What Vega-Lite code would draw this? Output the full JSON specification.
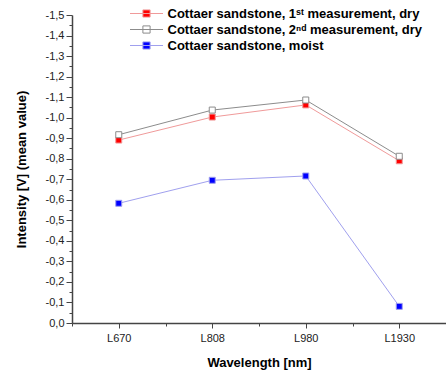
{
  "$schema": "https://vega.github.io/schema/vega-lite/v6.json",
  "width": 374,
  "height": 308,
  "autosize": {"type": "none"},
  "padding": {"left": 72, "top": 15, "right": 0, "bottom": 51},
  "background": "white",
  "config": {
    "font": "Liberation Sans",
    "view": {"stroke": null},
    "axis": {
      "grid": false,
      "domainColor": "#444444",
      "domainWidth": 1.5,
      "tickColor": "#444444",
      "tickWidth": 1,
      "labelFontSize": 11,
      "labelColor": "#222222",
      "labelFont": "Liberation Sans",
      "titleFont": "Liberation Sans",
      "titleFontSize": 13,
      "titleFontWeight": "bold",
      "titleColor": "#000000",
      "labelOverlap": false,
      "labelFlush": false
    }
  },
  "data": {
    "values": [
      {"wl": "L670", "series": "Cottaer sandstone, 1ˢᵗ measurement, dry", "v": -0.891},
      {"wl": "L808", "series": "Cottaer sandstone, 1ˢᵗ measurement, dry", "v": -1.003},
      {"wl": "L980", "series": "Cottaer sandstone, 1ˢᵗ measurement, dry", "v": -1.062},
      {"wl": "L1930", "series": "Cottaer sandstone, 1ˢᵗ measurement, dry", "v": -0.79},
      {"wl": "L670", "series": "Cottaer sandstone, 2ⁿᵈ measurement, dry", "v": -0.917},
      {"wl": "L808", "series": "Cottaer sandstone, 2ⁿᵈ measurement, dry", "v": -1.037},
      {"wl": "L980", "series": "Cottaer sandstone, 2ⁿᵈ measurement, dry", "v": -1.086},
      {"wl": "L1930", "series": "Cottaer sandstone, 2ⁿᵈ measurement, dry", "v": -0.812},
      {"wl": "L670", "series": "Cottaer sandstone, moist", "v": -0.583},
      {"wl": "L808", "series": "Cottaer sandstone, moist", "v": -0.695},
      {"wl": "L980", "series": "Cottaer sandstone, moist", "v": -0.716},
      {"wl": "L1930", "series": "Cottaer sandstone, moist", "v": -0.081}
    ]
  },
  "transform": [
    {"calculate": "indexof(['L670','L808','L980','L1930'], datum.wl) + 1", "as": "pos"}
  ],
  "encoding": {
    "x": {
      "field": "pos",
      "type": "quantitative",
      "scale": {"domain": [0.5, 4.5], "nice": false, "zero": false},
      "axis": {
        "title": "Wavelength [nm]",
        "values": [0.5, 1, 1.5, 2, 2.5, 3, 3.5, 4, 4.5],
        "labelExpr": "datum.value % 1 === 0 ? ['L670','L808','L980','L1930'][datum.value - 1] : ''",
        "tickSize": {"condition": {"test": "datum.value % 1 !== 0", "value": 3}, "value": 5},
        "labelPadding": 4,
        "titlePadding": 13
      }
    },
    "y": {
      "field": "v",
      "type": "quantitative",
      "scale": {"domain": [-1.5, 0], "reverse": true, "nice": false, "zero": false},
      "axis": {
        "title": "Intensity [V] (mean value)",
        "values": [-1.5, -1.45, -1.4, -1.35, -1.3, -1.25, -1.2, -1.15, -1.1, -1.05, -1.0, -0.95, -0.9, -0.85, -0.8, -0.75, -0.7, -0.65, -0.6, -0.55, -0.5, -0.45, -0.4, -0.35, -0.3, -0.25, -0.2, -0.15, -0.1, -0.05, 0],
        "labelExpr": "abs(round(datum.value * 20)) % 2 === 1 ? '' : (datum.value < -0.001 ? '-' : '') + replace(format(abs(datum.value), '.1f'), '.', ',')",
        "tickSize": {"condition": {"test": "abs(round(datum.value * 20)) % 2 === 1", "value": 3}, "value": 6},
        "labelPadding": 2,
        "titlePadding": 17
      }
    }
  },
  "layer": [
    {
      "mark": {"type": "line", "strokeWidth": 1},
      "encoding": {
        "stroke": {
          "field": "series",
          "type": "nominal",
          "scale": {
            "domain": ["Cottaer sandstone, 1ˢᵗ measurement, dry", "Cottaer sandstone, 2ⁿᵈ measurement, dry", "Cottaer sandstone, moist"],
            "range": ["#f09a9a", "#8c8c8c", "#a0a0ee"]
          },
          "legend": {
            "title": null,
            "orient": "none",
            "legendX": 68,
            "legendY": -8,
            "padding": 0,
            "symbolType": "M-2.75,0H2.75M-0.6,-0.6H0.6V0.6H-0.6Z",
            "symbolSize": 144,
            "symbolStrokeWidth": 1,
            "symbolOpacity": 1,
            "labelOffset": 14.5,
            "rowPadding": 2,
            "labelFontSize": 13,
            "labelFontWeight": "bold",
            "labelColor": "#000000",
            "labelFont": "Liberation Sans",
            "labelLimit": 400
          }
        }
      }
    },
    {
      "mark": {"type": "point", "shape": "square", "filled": true, "size": 36, "opacity": 1, "strokeWidth": 1},
      "encoding": {
        "fill": {
          "field": "series",
          "type": "nominal",
          "scale": {
            "domain": ["Cottaer sandstone, 1ˢᵗ measurement, dry", "Cottaer sandstone, 2ⁿᵈ measurement, dry", "Cottaer sandstone, moist"],
            "range": ["#ff0000", "#ffffff", "#0000ff"]
          },
          "legend": {
            "title": null,
            "orient": "none",
            "legendX": 68,
            "legendY": -8,
            "padding": 0,
            "symbolType": "M-2.75,0H2.75M-0.6,-0.6H0.6V0.6H-0.6Z",
            "symbolSize": 144,
            "symbolStrokeWidth": 1,
            "symbolOpacity": 1,
            "labelOffset": 14.5,
            "rowPadding": 2,
            "labelFontSize": 13,
            "labelFontWeight": "bold",
            "labelColor": "#000000",
            "labelFont": "Liberation Sans",
            "labelLimit": 400
          }
        },
        "stroke": {"field": "series", "type": "nominal"}
      }
    }
  ]
}
